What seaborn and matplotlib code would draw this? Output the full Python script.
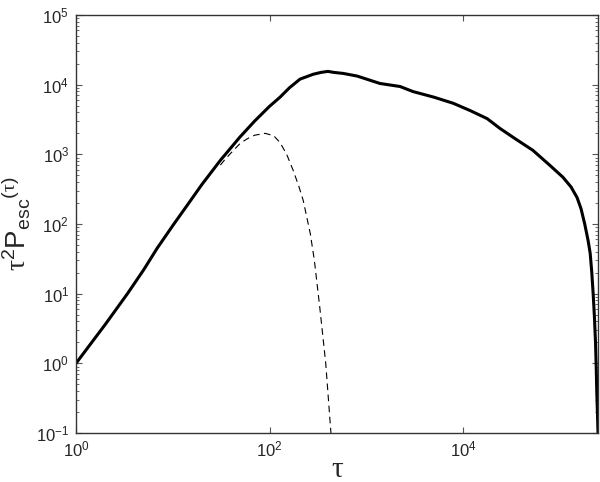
import numpy as np
import pandas as pd
import matplotlib
matplotlib.use("Agg")
import matplotlib.pyplot as plt
import matplotlib.ticker as mticker
import seaborn as sns

# Curvas
tau_total = [1, 2, 3.4, 5, 6.9, 10, 15, 20, 31, 40, 49, 70, 100, 128, 160,
             206, 282, 340, 400, 460, 575, 800, 1380, 2230, 3020, 5000, 7900,
             12000, 17700, 24000, 35000, 52500, 79000, 107000, 130000, 150000,
             165000, 180000, 195000, 205000, 213000, 220000, 227000, 233000,
             237000, 240000, 244000, 247000]
pesc_total = [1, 3.6, 10, 22, 45, 95, 210, 370, 820, 1250, 1750, 3000, 4900,
              6600, 9000, 12000, 14100, 15000, 15500, 15000, 14500, 13300,
              10400, 9400, 7970, 6600, 5400, 4200, 3250, 2350, 1650, 1140, 690,
              470, 340, 240, 165, 100, 58, 38, 20, 10, 4.5, 1.9, 0.8, 0.37,
              0.18, 0.1]

tau_single = [31, 34, 40, 50, 60, 70, 90, 110, 128, 150, 175, 200, 222, 263,
              290, 330, 380, 430]
pesc_single = [700, 820, 1050, 1450, 1700, 1880, 2000, 1850, 1480, 1000, 590,
               350, 220, 73, 30, 6.3, 1.0, 0.1]

x_ticks = [1, 1e2, 1e4]
y_ticks = [1e-1, 1e0, 1e1, 1e2, 1e3, 1e4, 1e5]

sns.set_style("ticks")
plt.rcParams['font.family'] = ['Liberation Sans', 'DejaVu Sans']
plt.rcParams['mathtext.fontset'] = 'custom'
plt.rcParams['mathtext.rm'] = 'Liberation Sans'
plt.rcParams['mathtext.it'] = 'Liberation Sans'
plt.rcParams['mathtext.sf'] = 'Liberation Serif'   # tau con serifa, como en el original
plt.rcParams['mathtext.default'] = 'regular'

fig = plt.figure(figsize=(6, 4.82), dpi=100)
ax = fig.add_axes([0.1267, 0.1017, 0.87, 0.8672])

df_total = pd.DataFrame({'tau': tau_total, 'p': pesc_total})
df_single = pd.DataFrame({'tau': tau_single, 'p': pesc_single})

sns.lineplot(data=df_total, x='tau', y='p', ax=ax, color='black', lw=2.2,
             sort=False, estimator=None)
sns.lineplot(data=df_single, x='tau', y='p', ax=ax, color='black', lw=0.8,
             sort=False, estimator=None, linestyle=(0, (6, 4)))

ax.set_xscale('log')
ax.set_yscale('log')
ax.set_xlim(1, 2.47e5)
ax.set_ylim(0.1, 1e5)

ax.xaxis.set_major_locator(mticker.FixedLocator(x_ticks))
ax.xaxis.set_minor_locator(mticker.NullLocator())
ax.xaxis.set_major_formatter(mticker.LogFormatterMathtext())
ax.yaxis.set_major_locator(mticker.FixedLocator(y_ticks))
ax.yaxis.set_minor_locator(mticker.LogLocator(base=10, subs=np.arange(2, 10), numticks=10))
ax.yaxis.set_major_formatter(mticker.LogFormatterMathtext())

ax.tick_params(which='both', direction='in', top=True, right=True, labelsize=12,
               color='#555555')
ax.tick_params(which='major', length=4, width=0.8, pad=5)
ax.tick_params(which='minor', length=2, width=0.6)
for s in ax.spines.values():
    s.set_linewidth(1.0)
    s.set_color('#333333')

ax.set_xlabel('τ', fontsize=21, family=['Liberation Serif', 'DejaVu Serif'],
              labelpad=-2)
ax.set_ylabel(r'$\mathsf{\tau}^2P_{esc}{}^{(\mathsf{\tau})}$', fontsize=20,
              labelpad=3)

plt.savefig('out.png', dpi=100)
